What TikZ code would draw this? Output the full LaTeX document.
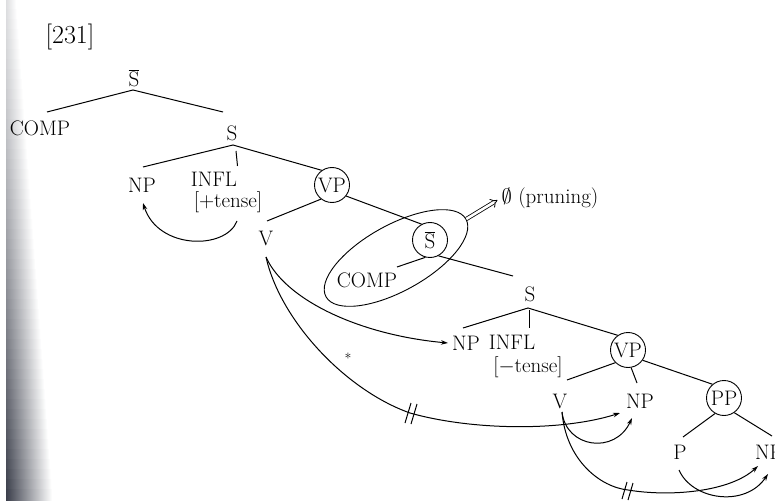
\documentclass[tikz,border=0pt]{standalone}
\usetikzlibrary{arrows.meta,shapes.geometric}
\definecolor{shad}{RGB}{30,34,48}
\begin{document}
\begin{tikzpicture}[x=1pt,y=-1pt,
  lab/.style={font=\fontsize{21}{25}\selectfont, inner sep=0.5pt},
  circ/.style={lab, draw, circle, inner sep=0pt, minimum size=35pt, line width=0.9pt},
  edge/.style={line width=1pt},
  mv/.style={line width=1pt, -{Stealth[length=7pt,width=4.5pt]}},
  tick/.style={line width=1pt}]
\useasboundingbox (0,0) rectangle (775,502);
\clip (0,0) rectangle (775,502);
\fill[white] (0,0) rectangle (775,502);
% scanner shadow at the left edge
\foreach \i in {0,...,49} {
  \pgfmathsetmacro\w{10+36*\i/49}
  \pgfmathsetmacro\d{15+72*(\i/49)^1.3}
  \shade[left color=shad!\d, right color=white] (6,\i*10-0.3) rectangle (6+\w,\i*10+10.3);
}
% nodes
\node[lab, font=\fontsize{26}{29}\selectfont] (num) at (70,37) {[231]};
\node[lab] (sb1) at (134,78) {$\overline{\mbox{S}}$};
\node[lab] (comp1) at (40,128) {COMP};
\node[lab] (s1) at (232,133) {S};
\node[lab] (np1) at (142,185) {NP};
\node[lab] (infl1) at (214,179) {INFL};
\node[lab] (tns1) at (228,202) {[+tense]};
\node[circ] (vp1) at (332,185) {VP};
\node[lab] (v1) at (266,238) {V};
\node[circ] (sb2) at (430,240) {$\overline{\mbox{S}}$};
\node[lab] (comp2) at (367,280) {COMP};
\node[draw, ellipse, rotate=29, minimum width=160pt, minimum height=66pt, line width=0.9pt] (ell) at (396,258) {};
\node[lab] (nul) at (550,198) {$\emptyset$ (pruning)};
\node[lab] (s2) at (530,294) {S};
\node[lab] (np2) at (466,343) {NP};
\node[lab] (infl2) at (512,342) {INFL};
\node[lab] (tns2) at (528,367) {[$-$tense]};
\node[circ] (vp2) at (628,350) {VP};
\node[lab] (v2) at (560,401) {V};
\node[lab] (np3) at (640,401) {NP};
\node[circ] (pp) at (724,398) {PP};
\node[lab] (p) at (680,452) {P};
\node[lab] (np4) at (769,452) {NP};
\node[lab, font=\fontsize{14}{14}\selectfont] (star) at (348,358) {*};
% joints and free ends of the branches
\coordinate (j1) at (133,90);
\coordinate (e1) at (47,112);
\coordinate (e2) at (223,112);
\coordinate (j2) at (233,145);
\coordinate (e3) at (143,167);
\coordinate (k2a) at (236,151);
\coordinate (k2b) at (237.5,166);
\coordinate (e4) at (267,221);
\coordinate (e5) at (397,267);
\coordinate (e6) at (513,276);
\coordinate (j3) at (528,308);
\coordinate (e7) at (463,328);
\coordinate (k3a) at (529,310);
\coordinate (k3b) at (529,328);
\coordinate (e8) at (567,380);
\coordinate (e9) at (637,383);
\coordinate (e10) at (683,437);
\coordinate (e11) at (772,436);
% branches
\draw[edge] (e1) -- (j1) -- (e2);
\draw[edge] (e3) -- (j2) -- (vp1.125);
\draw[edge] (k2a) -- (k2b);
\draw[edge] (vp1.-128) -- (e4);
\draw[edge] (vp1.-38) -- (sb2.118);
\draw[edge] (sb2.-105) -- (e5);
\draw[edge] (sb2.-62) -- (e6);
\draw[edge] (e7) -- (j3) -- (vp2.125);
\draw[edge] (k3a) -- (k3b);
\draw[edge] (vp2.-135) -- (e8);
\draw[edge] (vp2.-80) -- (e9);
\draw[edge] (vp2.-35) -- (pp.130);
\draw[edge] (pp.-120) -- (e10);
\draw[edge] (pp.-55) -- (e11);
% pruning arrow
\draw[double, double distance=2.6pt, line width=0.8pt, -{Implies}, shorten >=4pt] (ell.east) -- (nul.west);
% movement arrows
\coordinate (a1s) at (237,221);
\coordinate (a1e) at (143,203);
\draw[mv] (a1s) .. controls (226,250) and (158,250) .. (a1e);
\coordinate (a2s) at (266,257);
\coordinate (a2e) at (448,343);
\draw[mv] (a2s) .. controls (285,300) and (360,335) .. (a2e);
\coordinate (a3m) at (410,413);
\coordinate (a3e) at (620,413);
\draw[mv] (a2s) .. controls (280,320) and (345,390) .. (a3m)
  .. controls (470,430) and (560,432) .. (a3e);
\draw[tick] (405,423) -- (411,403);
\draw[tick] (411,424) -- (417,404);
\coordinate (a4s) at (562,412);
\coordinate (a4e) at (632,418);
\draw[mv] (a4s) .. controls (566,448) and (615,455) .. (a4e);
\coordinate (a5m) at (628,490);
\coordinate (a5e) at (758,466);
\draw[mv] (a4s) .. controls (566,460) and (600,487) .. (a5m)
  .. controls (670,497) and (730,492) .. (a5e);
\draw[tick] (622,499) -- (627,482);
\draw[tick] (628,500) -- (633,483);
\coordinate (a6s) at (679,470);
\coordinate (a6e) at (768,474);
\draw[mv] (a6s) .. controls (692,500) and (745,508) .. (a6e);
\end{tikzpicture}
\end{document}
